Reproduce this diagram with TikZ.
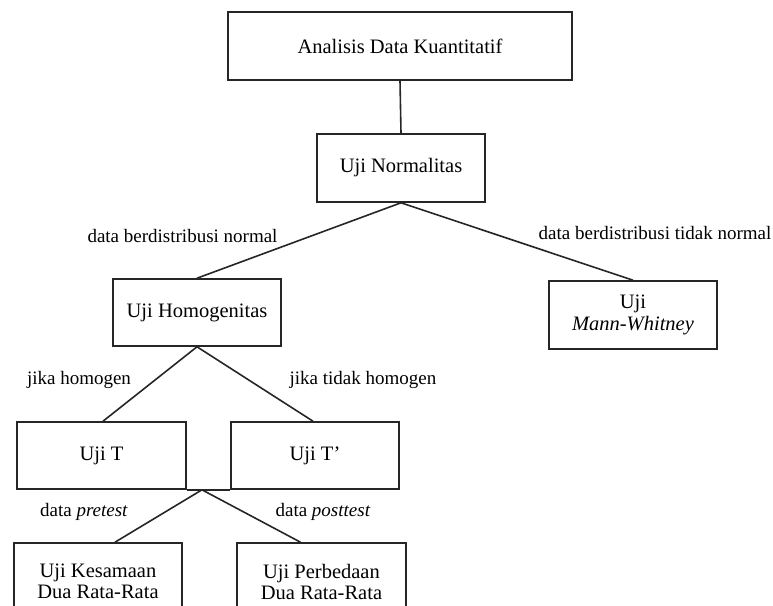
\documentclass[tikz,border=0pt]{standalone}
\usepackage{fontspec}
\setmainfont{Liberation Serif}
\usetikzlibrary{calc}
\begin{document}
\begin{tikzpicture}[x=1pt,y=-1pt,
  box/.style={draw=black!85, line width=1.6pt, rectangle, inner sep=0pt, align=center,
    font=\fontsize{20.5}{24}\selectfont},
  lbl/.style={inner sep=0pt, font=\fontsize{19}{22}\selectfont},
  conn/.style={draw=black!85, line width=1.6pt}]
\useasboundingbox (0,0) rectangle (773,605);
\clip (0,0) rectangle (773,605);
\node[box, minimum width=344pt, minimum height=68pt] (top) at (400,46) {Analisis Data Kuantitatif};
\node[box, minimum width=168pt, minimum height=68pt] (norm) at (401,168) {Uji Normalitas};
\node[box, minimum width=168pt, minimum height=67pt] (homo) at (197,312.5) {Uji Homogenitas};
\node[box, minimum width=168pt, minimum height=68pt] (mw) at (633,315) {Uji\\[-2pt] \textit{Mann-Whitney}};
\node[box, minimum width=169pt, minimum height=67pt] (ujit) at (101.5,455.5) {Uji T};
\node[box, minimum width=168pt, minimum height=67pt] (ujitp) at (315,455.5) {Uji T’};
\node[box, minimum width=168pt, minimum height=77pt] (kes) at (98,581.5) {Uji Kesamaan\\[-3pt] Dua Rata-Rata};
\node[box, minimum width=169pt, minimum height=77pt] (perb) at (321.5,581.5) {Uji Perbedaan\\[-3pt] Dua Rata-Rata};

\node[lbl] (l1) at (182.5,236) {data berdistribusi normal};
\node[lbl] (l2) at (655,233) {data berdistribusi tidak normal};
\node[lbl] (l3) at (79,380) {jika homogen};
\node[lbl] (l4) at (363,380) {jika tidak homogen};
\node[lbl] (l5) at (84,512) {data \textit{pretest}};
\node[lbl] (l6) at (323,512) {data \textit{posttest}};

\draw[conn] (top.south) -- (norm.north);
\draw[conn] (norm.south) -- (homo.north);
\draw[conn] (norm.south) -- (mw.north);
\draw[conn] (homo.south) -- ([xshift=1.5pt]ujit.north);
\draw[conn] (homo.south) -- ([xshift=-2pt]ujitp.north);
\draw[conn] (ujit.south east) -- (ujitp.south west);
\coordinate (j) at ($(ujit.south east)!0.35!(ujitp.south west)$);
\draw[conn] (j) -- ([xshift=17pt]kes.north);
\draw[conn] (j) -- ([xshift=-21pt]perb.north);
\end{tikzpicture}
\end{document}
